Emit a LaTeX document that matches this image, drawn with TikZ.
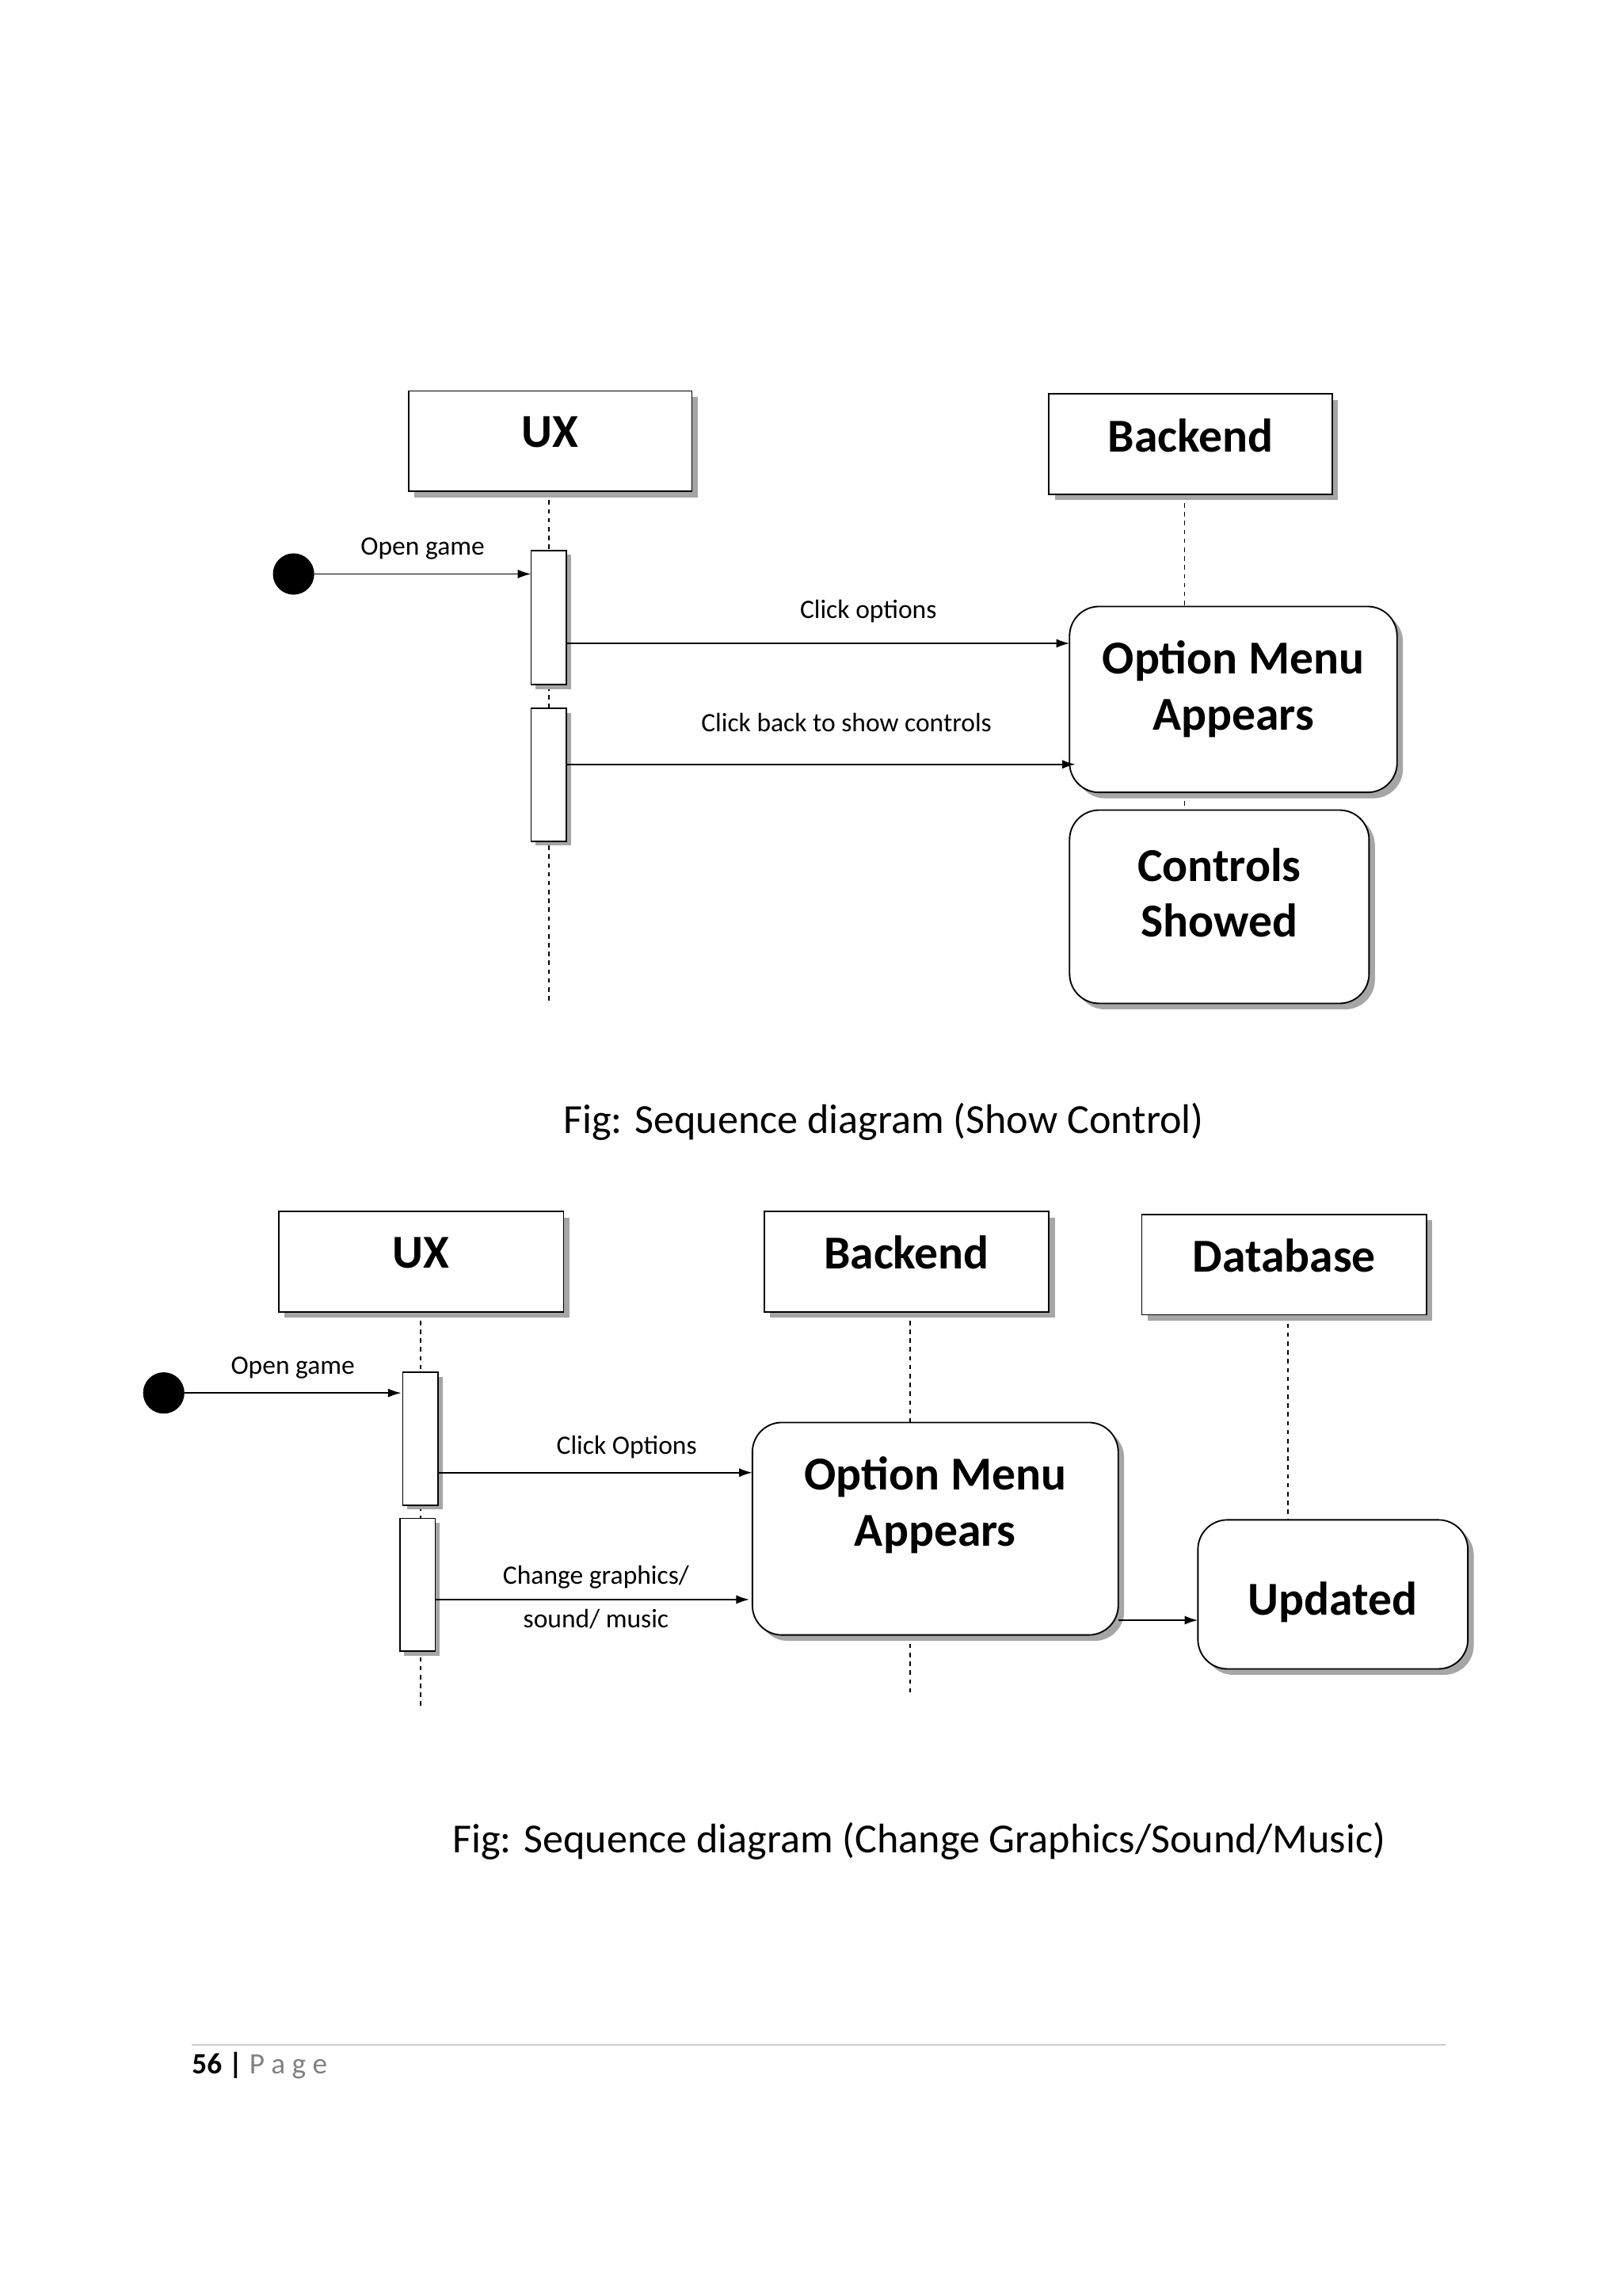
\documentclass[tikz,border=0pt]{standalone}
\usepackage{fontspec}
\setmainfont{Carlito}
\usetikzlibrary{arrows.meta}
\begin{document}
\begin{tikzpicture}[x=1pt,y=-1pt,
  box/.style={draw,line width=1pt,fill=white},
  shadow/.style={fill=gray!70},
  life/.style={dashed,dash pattern=on 3pt off 3pt,line width=0.8pt},
  msg/.style={-{Latex[length=9pt,width=6pt]},line width=1pt},
  lab/.style={font=\fontsize{18}{20}\selectfont},
  head/.style={font=\fontsize{32}{36}\selectfont\bfseries},
  figcap/.style={font=\fontsize{28}{32}\selectfont}]
\useasboundingbox (0,0) rectangle (1100,1556);
\newcommand{\objbox}[6]{% name x1 y1 x2 y2 text
  \fill[shadow] (#2+4,#3+4) rectangle (#4+4,#5+4);
  \draw[box] (#2,#3) rectangle (#4,#5);
  \node[head] (#1) at ({(#2+#4)/2},{#3+28}) {#6};}
\newcommand{\rbox}[6]{%
  \fill[shadow,rounded corners=20pt] (#2+4,#3+4) rectangle (#4+4,#5+4);
  \draw[box,rounded corners=20pt] (#2,#3) rectangle (#4,#5);
  \node[head,align=center] (#1) at ({(#2+#4)/2},{#3+56}) {#6};}
\newcommand{\act}[5]{%
  \fill[shadow] (#2+3,#3+3) rectangle (#4+3,#5+3);
  \draw[box] (#2,#3) rectangle (#4,#5);
  \coordinate (#1) at (#2,#3);}
% ---- top ----
\draw[life] (372,333) -- (372,678);
\draw[life] (803,335) -- (803,410);
\draw[life] (803,537) -- (803,548);
\objbox{ux1}{277}{265}{469}{333}{UX}
\objbox{be1}{711}{267}{903}{335}{Backend}
\act{a1}{360}{373}{384}{464}
\act{a2}{360}{480}{384}{570}
\fill (199,389) circle (14);
\coordinate (s1) at (213,389);
\coordinate (s1e) at (360,389);
\draw[msg] (s1) -- (s1e) node[lab,midway,above=6pt] {Open game};
\rbox{om1}{725}{411}{947}{537}{Option Menu\\[2pt]Appears}
\rbox{cs1}{725}{549}{928}{680}{Controls\\[2pt]Showed}
\coordinate (m1a) at (384,436); \coordinate (m1b) at (725,436);
\draw[msg] (m1a) -- (m1b) node[lab,pos=0.6,above=10pt] {Click options};
\coordinate (m2a) at (384,518); \coordinate (m2b) at (729,518);
\draw[msg] (m2a) -- (m2b) node[lab,pos=0.55,above=18pt] {Click back to show controls};
\node[figcap] (c1) at (599,760) {Fig: Sequence diagram (Show Control)};
% ---- bottom ----
\draw[life] (285,889) -- (285,1158);
\draw[life] (617,889) -- (617,964);
\draw[life] (617,1108) -- (617,1148);
\draw[life] (873,891) -- (873,1030);
\objbox{ux2}{189}{821}{382}{889}{UX}
\objbox{be2}{518}{821}{711}{889}{Backend}
\objbox{db2}{774}{823}{967}{891}{Database}
\act{a3}{273}{930}{297}{1020}
\act{a4}{271}{1029}{295}{1119}
\fill (111,944) circle (14);
\coordinate (s2) at (125,944); \coordinate (s2e) at (272,944);
\draw[msg] (s2) -- (s2e) node[lab,midway,above=6pt] {Open game};
\rbox{om2}{510}{964}{758}{1108}{Option Menu\\[2pt]Appears}
\rbox{up2}{812}{1030}{995}{1131}{Updated}
\coordinate (m3a) at (297,998); \coordinate (m3b) at (510,998);
\draw[msg] (m3a) -- (m3b) node[lab,pos=0.6,above=6pt] {Click Options};
\coordinate (m4a) at (295,1084); \coordinate (m4b) at (508,1084);
\draw[msg] (m4a) -- (m4b);
\node[lab] (l4a) at (404,1069) {Change graphics/};
\node[lab] (l4b) at (404,1097) {sound/ music};
\coordinate (m5a) at (758,1098); \coordinate (m5b) at (812,1098);
\draw[msg] (m5a) -- (m5b);
\node[figcap] (c2) at (623,1248) {Fig: Sequence diagram (Change Graphics/Sound/Music)};
% footer
\draw[gray!40,line width=1pt] (130,1386) -- (980,1386);
\node[anchor=west,font=\fontsize{20}{22}\selectfont,inner sep=0] (pg) at (130,1400) {\textbf{56 |} \textcolor{gray}{P a g e}};
\end{tikzpicture}
\end{document}
